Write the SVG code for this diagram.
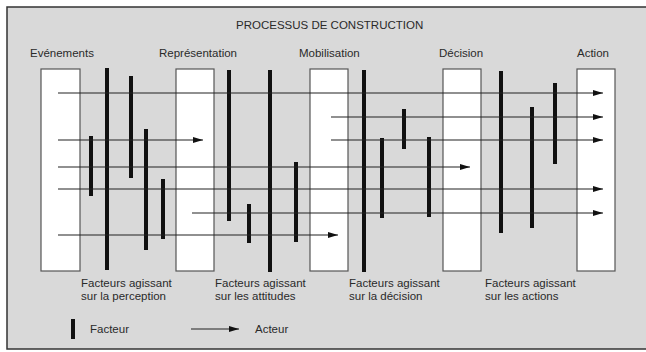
<svg xmlns="http://www.w3.org/2000/svg" width="646" height="352" viewBox="0 0 646 352">
<style>
text{font-family:"Liberation Sans",Arial,sans-serif;font-size:11.5px;fill:#2a2a2a}
.box{fill:#fff;stroke:#555;stroke-width:1.2}
.act{stroke:#222;stroke-width:1.2;fill:none}
.fac{stroke:#111;stroke-width:4;fill:none}
</style>
<defs>
<marker id="ah" viewBox="0 0 10 6" refX="10" refY="3" markerWidth="10" markerHeight="6" markerUnits="userSpaceOnUse" orient="auto">
<path d="M0,0 L10,3 L0,6 Z" fill="#111"/>
</marker>
</defs>
<rect x="0" y="0" width="646" height="352" fill="#fff"/>
<rect id="frame" x="7" y="7" width="660" height="342" fill="#d9d9d9" stroke="#333" stroke-width="1.5"/>
<text id="title" x="236" y="29">PROCESSUS DE CONSTRUCTION</text>

<g id="evenements"><rect class="box" x="41" y="69" width="39" height="202"/><text x="30" y="57">Evénements</text></g>
<g id="representation"><rect class="box" x="176" y="69" width="38" height="202"/><text x="159" y="57">Représentation</text></g>
<g id="mobilisation"><rect class="box" x="310" y="69" width="38" height="202"/><text x="299" y="57">Mobilisation</text></g>
<g id="decision"><rect class="box" x="443" y="69" width="38" height="202"/><text x="439" y="57">Décision</text></g>
<g id="action"><rect class="box" x="577" y="69" width="38" height="202"/><text x="577" y="57">Action</text></g>

<g id="factors">
<line class="fac" x1="107" y1="68" x2="107" y2="270"/>
<line class="fac" x1="131" y1="76" x2="131" y2="178"/>
<line class="fac" x1="146" y1="129" x2="146" y2="250"/>
<line class="fac" x1="91" y1="136" x2="91" y2="196"/>
<line class="fac" x1="163" y1="179" x2="163" y2="239"/>
<line class="fac" x1="229" y1="70" x2="229" y2="221"/>
<line class="fac" x1="270" y1="70" x2="270" y2="272"/>
<line class="fac" x1="249" y1="204" x2="249" y2="243"/>
<line class="fac" x1="296" y1="162" x2="296" y2="242"/>
<line class="fac" x1="364" y1="70" x2="364" y2="272"/>
<line class="fac" x1="404" y1="109" x2="404" y2="149"/>
<line class="fac" x1="382" y1="138" x2="382" y2="218"/>
<line class="fac" x1="429" y1="137" x2="429" y2="217"/>
<line class="fac" x1="501" y1="71" x2="501" y2="233"/>
<line class="fac" x1="532" y1="107" x2="532" y2="228"/>
<line class="fac" x1="555" y1="83" x2="555" y2="164"/>
</g>

<g id="connectors">
<line class="act" x1="58" y1="93" x2="603" y2="93" marker-end="url(#ah)"/>
<line class="act" x1="331" y1="117" x2="603" y2="117" marker-end="url(#ah)"/>
<line class="act" x1="58" y1="140" x2="203" y2="140" marker-end="url(#ah)"/>
<line class="act" x1="331" y1="140" x2="603" y2="140" marker-end="url(#ah)"/>
<line class="act" x1="58" y1="167" x2="470" y2="167" marker-end="url(#ah)"/>
<line class="act" x1="58" y1="189" x2="603" y2="189" marker-end="url(#ah)"/>
<line class="act" x1="192" y1="213" x2="603" y2="213" marker-end="url(#ah)"/>
<line class="act" x1="58" y1="235" x2="338" y2="235" marker-end="url(#ah)"/>
</g>

<g id="labels">
<text x="81" y="287">Facteurs agissant</text><text x="81" y="300">sur la perception</text>
<text x="215" y="287">Facteurs agissant</text><text x="215" y="300">sur les attitudes</text>
<text x="349" y="287">Facteurs agissant</text><text x="349" y="300">sur la décision</text>
<text x="485" y="287">Facteurs agissant</text><text x="485" y="300">sur les actions</text>
</g>

<g id="legend">
<line class="fac" x1="73" y1="319" x2="73" y2="339"/>
<text x="90" y="333">Facteur</text>
<line class="act" x1="191" y1="329" x2="239" y2="329" marker-end="url(#ah)"/>
<text x="255" y="333">Acteur</text>
</g>
</svg>
